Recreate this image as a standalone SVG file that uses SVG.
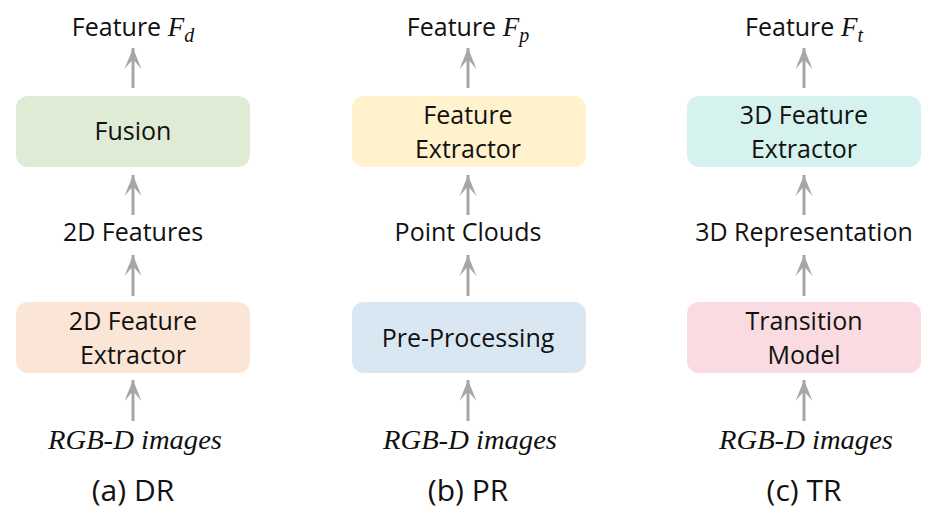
<svg xmlns="http://www.w3.org/2000/svg" width="944" height="531" viewBox="0 0 944 531">
<defs>
<marker id="ah" markerUnits="userSpaceOnUse" markerWidth="20" markerHeight="24" viewBox="-10 0 20 24" refX="0" refY="0" orient="0" overflow="visible">
<path d="M0,0 L8.5,21 L1.5,13 L-1.5,13 L-8.5,21 Z" fill="#A6A6A6"/>
</marker>
<style>
.t{font-family:"Open Sans","Noto Sans",sans-serif;font-size:25px;fill:#111;text-anchor:middle}
.cap{font-family:"Open Sans","Noto Sans",sans-serif;font-size:30px;fill:#111;text-anchor:middle}
.it{font-family:"Liberation Serif",serif;font-style:italic;font-size:28px;fill:#111;text-anchor:middle}
.m{font-family:"Liberation Serif",serif;font-style:italic}
.c{stroke:#A6A6A6;stroke-width:3;fill:none;marker-start:url(#ah)}
</style>
</defs>
<rect width="944" height="531" fill="#fff"/>
<g id="connectors">
<path class="c" d="M133,48 V88"/><path class="c" d="M133,175 V215"/><path class="c" d="M133,255 V296"/><path class="c" d="M133,380 V421"/>
<path class="c" d="M468,48 V88"/><path class="c" d="M468,175 V215"/><path class="c" d="M468,255 V296"/><path class="c" d="M468,380 V421"/>
<path class="c" d="M804,48 V88"/><path class="c" d="M804,175 V215"/><path class="c" d="M804,255 V296"/><path class="c" d="M804,380 V421"/>
</g>
<g id="featD"><text class="t" x="133" y="36">Feature <tspan class="m" font-size="27">F</tspan><tspan class="m" font-size="20" dy="6">d</tspan></text></g>
<g id="fusion"><rect x="16" y="96" width="234" height="71" rx="12" fill="#E0EBD5"/><text class="t" x="133" y="140">Fusion</text></g>
<g id="feat2d"><text class="t" x="133" y="241">2D Features</text></g>
<g id="ext2d"><rect x="16" y="302" width="234" height="71" rx="12" fill="#FBE5D6"/><text class="t" x="133" y="330">2D Feature</text><text class="t" x="133" y="364">Extractor</text></g>
<g id="rgbdA"><text class="it" x="135" y="449" textLength="174" lengthAdjust="spacingAndGlyphs">RGB-D images</text></g>
<g id="capA"><text class="cap" x="133" y="501">(a) DR</text></g>

<g id="featP"><text class="t" x="468" y="36">Feature <tspan class="m" font-size="27">F</tspan><tspan class="m" font-size="20" dy="6">p</tspan></text></g>
<g id="extP"><rect x="352" y="96" width="234" height="71" rx="12" fill="#FFF2CC"/><text class="t" x="468" y="124">Feature</text><text class="t" x="468" y="158">Extractor</text></g>
<g id="pc"><text class="t" x="468" y="241">Point Clouds</text></g>
<g id="pre"><rect x="352" y="302" width="234" height="71" rx="12" fill="#D9E7F2"/><text class="t" x="468" y="347">Pre-Processing</text></g>
<g id="rgbdB"><text class="it" x="470" y="449" textLength="174" lengthAdjust="spacingAndGlyphs">RGB-D images</text></g>
<g id="capB"><text class="cap" x="468" y="501">(b) PR</text></g>

<g id="featT"><text class="t" x="804" y="36">Feature <tspan class="m" font-size="27">F</tspan><tspan class="m" font-size="20" dy="6">t</tspan></text></g>
<g id="ext3d"><rect x="687" y="96" width="234" height="71" rx="12" fill="#D5F2EF"/><text class="t" x="804" y="124">3D Feature</text><text class="t" x="804" y="158">Extractor</text></g>
<g id="rep3d"><text class="t" x="804" y="241">3D Representation</text></g>
<g id="trans"><rect x="687" y="302" width="234" height="71" rx="12" fill="#F9DBE1"/><text class="t" x="804" y="330">Transition</text><text class="t" x="804" y="364">Model</text></g>
<g id="rgbdC"><text class="it" x="806" y="449" textLength="174" lengthAdjust="spacingAndGlyphs">RGB-D images</text></g>
<g id="capC"><text class="cap" x="804" y="501">(c) TR</text></g>
</svg>
